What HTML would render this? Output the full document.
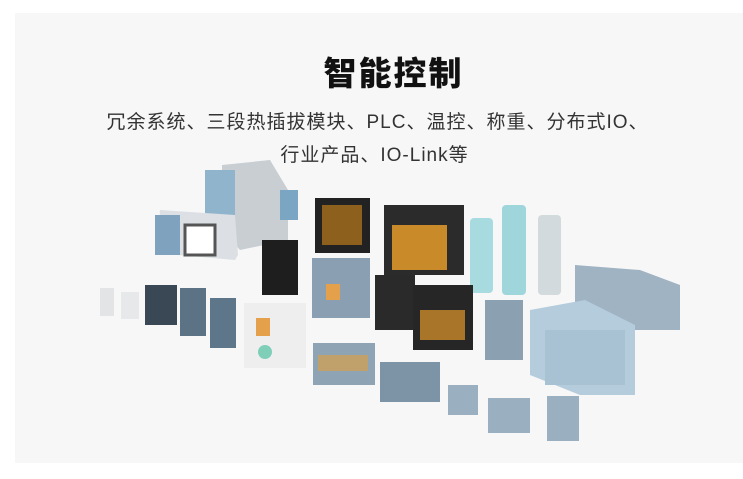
<!DOCTYPE html>
<html><head><meta charset="utf-8"><style>
html,body{margin:0;padding:0;width:743px;height:479px;background:#fff;overflow:hidden;font-family:"Liberation Sans","Noto Sans CJK SC",sans-serif}
.panel{position:absolute;left:15px;top:13px;width:728px;height:450px;background:#f7f7f7}
.t{position:absolute;left:0;width:743px;text-align:center;color:#111}
.d{position:absolute}
</style></head><body>
<div class="panel"></div>
<div class="t" style="top:47px;font-size:33px;font-weight:900;letter-spacing:2px;left:22px">智能控制</div>
<div class="t" style="top:107px;font-size:19px;color:#333;left:6px;letter-spacing:1px">冗余系统、三段热插拔模块、PLC、温控、称重、分布式IO、</div>
<div class="t" style="top:140px;font-size:19px;color:#333;left:3px;letter-spacing:1px">行业产品、IO-Link等</div>
<svg class="d" style="left:0;top:0" width="743" height="479">
<polygon points="222,165 270,160 288,190 288,240 240,250 222,230" fill="#c9ced3"/>
<rect x="205" y="170" width="30" height="45" fill="#8fb4cc"/>
<rect x="280" y="190" width="18" height="30" fill="#7aa6c4"/>
<polygon points="160,210 235,215 238,255 235,260 178,255 158,245" fill="#dcdfe3"/>
<rect x="155" y="215" width="25" height="40" fill="#7fa3bf"/>
<rect x="185" y="225" width="30" height="30" fill="#ffffff" stroke="#555" stroke-width="3"/>
<rect x="315" y="198" width="55" height="55" fill="#222"/>
<rect x="322" y="205" width="40" height="40" fill="#d68a1a" opacity=".6"/>
<rect x="384" y="205" width="80" height="70" fill="#2b2b2b"/>
<rect x="392" y="225" width="55" height="45" fill="#c98a2a"/>
<rect x="262" y="240" width="36" height="55" fill="#1e1e1e"/>
<rect x="470" y="218" width="23" height="75" rx="4" fill="#a7dbe0"/>
<rect x="502" y="205" width="24" height="90" rx="4" fill="#9fd6db"/>
<rect x="538" y="215" width="23" height="80" rx="4" fill="#d3dadd"/>
<rect x="312" y="258" width="58" height="60" fill="#8aa0b2"/>
<rect x="326" y="284" width="14" height="16" fill="#e4a04a"/>
<polygon points="575,265 640,270 680,285 680,330 600,330 575,320" fill="#9fb3c3"/>
<rect x="375" y="275" width="40" height="55" fill="#2a2a2a"/>
<rect x="413" y="285" width="60" height="65" fill="#262626"/>
<rect x="420" y="310" width="45" height="30" fill="#c98a2a" opacity=".8"/>
<rect x="485" y="300" width="38" height="60" fill="#8ba1b2"/>
<rect x="100" y="288" width="14" height="28" fill="#e2e4e6"/>
<rect x="121" y="292" width="18" height="27" fill="#e6e8ea"/>
<rect x="145" y="285" width="32" height="40" fill="#3a4855"/>
<rect x="180" y="288" width="26" height="48" fill="#5b7385"/>
<rect x="210" y="298" width="26" height="50" fill="#5d7689"/>
<rect x="244" y="303" width="62" height="65" fill="#eeeeee"/>
<rect x="256" y="318" width="14" height="18" fill="#e4a04a"/>
<circle cx="265" cy="352" r="7" fill="#7fcfb8"/>
<polygon points="530,310 585,300 635,325 635,395 580,395 530,375" fill="#b4ccdc"/>
<rect x="545" y="330" width="80" height="55" fill="#a9c2d3"/>
<rect x="313" y="343" width="62" height="42" fill="#8ea4b5"/>
<rect x="318" y="355" width="50" height="16" fill="#d6a04d" opacity=".7"/>
<rect x="380" y="362" width="60" height="40" fill="#7d94a7"/>
<rect x="448" y="385" width="30" height="30" fill="#9aafbf"/>
<rect x="488" y="398" width="42" height="35" fill="#9aafbf"/>
<rect x="547" y="396" width="32" height="45" fill="#9aafbf"/>
</svg>
</body></html>
